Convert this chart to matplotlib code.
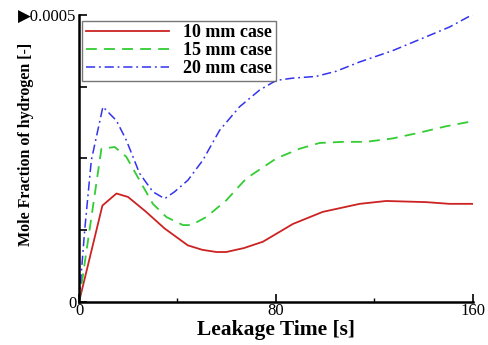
import matplotlib
matplotlib.use("Agg")
import matplotlib.pyplot as plt
from matplotlib.ticker import FixedLocator, FixedFormatter

# leakage time [s]
t_10 = [0, 9.5, 15.2, 19.9, 27, 34.8, 44.2, 50, 55.8, 59.8, 67, 74.7, 86.9, 99, 114, 124.8, 141, 150.5, 160]
y_10 = [0, 0.000168, 0.000189, 0.000183, 0.000158, 0.000128, 0.0000987, 0.000091, 0.0000871, 0.0000871,
        0.000094, 0.000105, 0.000136, 0.000157, 0.000171, 0.000176, 0.000174, 0.000171, 0.000171]

t_15 = [0, 9.1, 14.5, 19.2, 24.6, 30, 35.5, 42.2, 45.6, 51.7, 59.8, 67.9, 80.1, 89.6, 97.7, 107.2, 116.6,
        127.5, 138.3, 149, 160]
y_15 = [0, 0.000267, 0.00027, 0.000253, 0.000212, 0.000171, 0.000148, 0.000134, 0.000134, 0.000148,
        0.000177, 0.000215, 0.00025, 0.000267, 0.000277, 0.000279, 0.000279, 0.000285, 0.000295,
        0.000306, 0.000315]

t_20 = [0, 2.3, 5, 9.7, 15.2, 19.2, 24.6, 30, 34.8, 38.8, 44.2, 50.3, 57.1, 65.2, 73.3, 80.1, 86.9, 96.3,
        104.5, 113.9, 127.5, 141, 150.5, 160]
y_20 = [0, 0.000125, 0.000247, 0.00034, 0.000316, 0.000282, 0.000224, 0.000192, 0.00018, 0.000192,
        0.000212, 0.000247, 0.000299, 0.00034, 0.000369, 0.000386, 0.00039, 0.000393, 0.000402,
        0.000418, 0.000438, 0.000462, 0.000479, 0.000501]

labels = ["10 mm case", "15 mm case", "20 mm case"]
y_ticks = [0, 0.000125, 0.00025, 0.000375, 0.0005]
y_tick_labels = ["0", "", "", "", "\u25b60.0005"]

serif = ["Liberation Serif", "DejaVu Sans"]

fig = plt.figure(figsize=(4.89, 3.45), dpi=100)
ax = fig.add_axes([0.1616, 0.1246, 0.8054, 0.832])

ax.plot(t_10, y_10, color="#cc2222", lw=1.3, ls="-", label=labels[0])
ax.plot(t_15, y_15, color="#33cc33", lw=1.3, ls=(0, (6, 4)), label=labels[1])
ax.plot(t_20, y_20, color="#3333ee", lw=1.1, ls=(0, (6, 2.5, 1.2, 2.5)), label=labels[2])

ax.set_xlim(0, 160)
ax.set_ylim(0, 0.0005)

ax.spines["top"].set_visible(False)
ax.spines["right"].set_visible(False)
ax.spines["left"].set_linewidth(1.8)
ax.spines["bottom"].set_linewidth(1.8)

ax.xaxis.set_major_locator(FixedLocator([0, 80, 160]))
ax.xaxis.set_minor_locator(FixedLocator([40, 120]))
ax.yaxis.set_major_locator(FixedLocator(y_ticks))
ax.yaxis.set_major_formatter(FixedFormatter(y_tick_labels))
ax.tick_params(axis="both", which="major", direction="in", length=6, width=1.2, pad=2)
ax.tick_params(axis="both", which="minor", direction="in", length=3, width=1)
ax.tick_params(axis="x", pad=1)

for lab in ax.get_xticklabels() + ax.get_yticklabels():
    lab.set_family(serif)
    lab.set_fontsize(12)

ax.set_xlabel("Leakage Time [s]", family=serif, fontweight="bold", fontsize=15.5)
ax.xaxis.set_label_coords(0.5, -0.064)
ax.set_ylabel("Mole Fraction of hydrogen [-]", family=serif, fontweight="bold", fontsize=11.5)
ax.yaxis.set_label_coords(-0.115, 0.55)

leg = ax.legend(loc="upper left", bbox_to_anchor=(0.008, 0.98), borderaxespad=0, frameon=True,
                fancybox=False, edgecolor="#555555", handlelength=4.6, handletextpad=0.8,
                borderpad=0.2, labelspacing=0.05,
                prop={"family": serif, "weight": "bold", "size": 13})
leg.get_frame().set_linewidth(1.0)

fig.savefig("out.png", dpi=100)
